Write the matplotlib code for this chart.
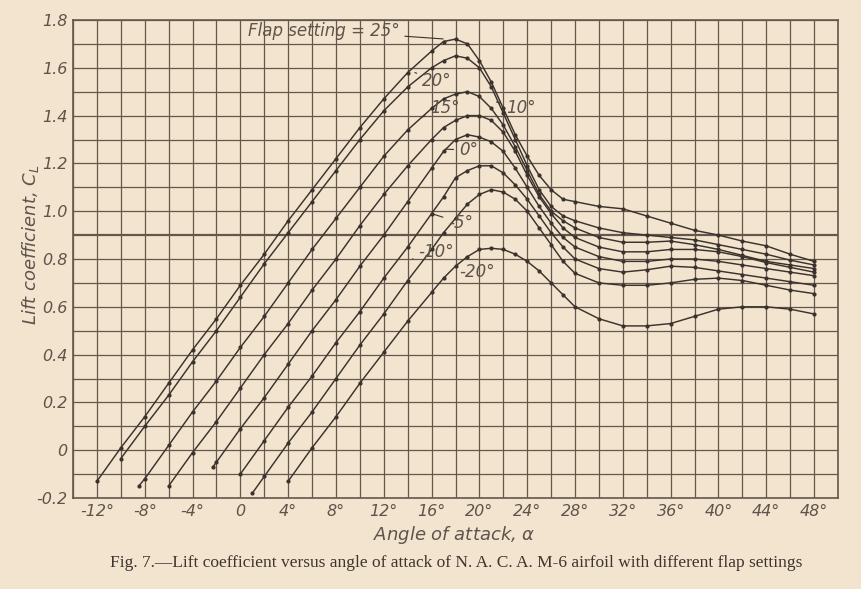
import matplotlib
matplotlib.use("Agg")
import matplotlib.pyplot as plt

# angle of attack (deg) and lift coefficient for each flap setting
a_p25 = [-12, -10, -8, -6, -4, -2, 0, 2, 4, 6, 8, 10, 12, 14, 16, 17, 18, 19, 20, 21, 22, 23, 24, 25, 26, 27,
         28, 30, 32, 34, 36, 38, 40, 42, 44, 46, 48]
cl_p25 = [-0.13, 0.01, 0.14, 0.28, 0.42, 0.55, 0.69, 0.82, 0.96, 1.09, 1.22, 1.35, 1.47, 1.58, 1.67, 1.71, 1.72,
          1.70, 1.63, 1.54, 1.43, 1.32, 1.23, 1.15, 1.09, 1.05, 1.04, 1.02, 1.01, 0.98, 0.95, 0.92, 0.90, 0.875,
          0.855, 0.82, 0.79]

a_p20 = [-10, -8, -6, -4, -2, 0, 2, 4, 6, 8, 10, 12, 14, 16, 17, 18, 19, 20, 21, 22, 23, 24, 25, 26, 27,
         28, 30, 32, 34, 36, 38, 40, 42, 44, 46, 48]
cl_p20 = [-0.035, 0.10, 0.23, 0.37, 0.50, 0.64, 0.78, 0.91, 1.04, 1.17, 1.30, 1.42, 1.52, 1.60, 1.63, 1.65,
          1.64, 1.60, 1.52, 1.41, 1.30, 1.19, 1.09, 1.02, 0.98, 0.96, 0.93, 0.91, 0.90, 0.89, 0.88, 0.86, 0.84,
          0.82, 0.795, 0.775]

a_p15 = [-8.5, -8, -6, -4, -2, 0, 2, 4, 6, 8, 10, 12, 14, 16, 17, 18, 19, 20, 21, 22, 23, 24, 25, 26, 27,
         28, 30, 32, 34, 36, 38, 40, 42, 44, 46, 48]
cl_p15 = [-0.15, -0.12, 0.02, 0.16, 0.29, 0.43, 0.56, 0.70, 0.84, 0.97, 1.10, 1.23, 1.34, 1.43, 1.47, 1.49,
          1.50, 1.48, 1.43, 1.36, 1.27, 1.17, 1.07, 1.00, 0.96, 0.93, 0.89, 0.87, 0.87, 0.875, 0.86, 0.84, 0.815,
          0.79, 0.775, 0.76]

a_p10 = [-6, -4, -2, 0, 2, 4, 6, 8, 10, 12, 14, 16, 17, 18, 19, 20, 21, 22, 23, 24, 25, 26, 27,
         28, 30, 32, 34, 36, 38, 40, 42, 44, 46, 48]
cl_p10 = [-0.15, -0.01, 0.12, 0.26, 0.40, 0.53, 0.67, 0.80, 0.94, 1.07, 1.19, 1.30, 1.35, 1.38, 1.40, 1.40,
          1.38, 1.33, 1.25, 1.15, 1.06, 0.99, 0.93, 0.89, 0.85, 0.83, 0.83, 0.84, 0.84, 0.83, 0.81, 0.785,
          0.765, 0.745]

a_0 = [-2.3, -2, 0, 2, 4, 6, 8, 10, 12, 14, 16, 17, 18, 19, 20, 21, 22, 23, 24, 25, 26, 27,
       28, 30, 32, 34, 36, 38, 40, 42, 44, 46, 48]
cl_0 = [-0.07, -0.05, 0.09, 0.22, 0.36, 0.50, 0.63, 0.77, 0.90, 1.04, 1.18, 1.25, 1.30, 1.32, 1.31, 1.29,
        1.25, 1.18, 1.10, 1.02, 0.95, 0.89, 0.85, 0.81, 0.79, 0.79, 0.80, 0.80, 0.79, 0.775, 0.76, 0.745, 0.73]

a_m5 = [0, 2, 4, 6, 8, 10, 12, 14, 16, 17, 18, 19, 20, 21, 22, 23, 24, 25, 26, 27,
        28, 30, 32, 34, 36, 38, 40, 42, 44, 46, 48]
cl_m5 = [-0.10, 0.04, 0.18, 0.31, 0.45, 0.58, 0.72, 0.85, 0.99, 1.06, 1.14, 1.17, 1.19, 1.19, 1.16, 1.11,
         1.05, 0.98, 0.91, 0.85, 0.80, 0.76, 0.745, 0.755, 0.77, 0.765, 0.75, 0.735, 0.72, 0.705, 0.69]

a_m10 = [1, 2, 4, 6, 8, 10, 12, 14, 16, 17, 18, 19, 20, 21, 22, 23, 24, 25, 26, 27,
         28, 30, 32, 34, 36, 38, 40, 42, 44, 46, 48]
cl_m10 = [-0.18, -0.11, 0.03, 0.16, 0.30, 0.44, 0.57, 0.71, 0.84, 0.91, 0.97, 1.03, 1.07, 1.09, 1.08, 1.05,
          1.00, 0.93, 0.86, 0.79, 0.74, 0.70, 0.69, 0.69, 0.70, 0.715, 0.72, 0.71, 0.69, 0.67, 0.655]

a_m20 = [4, 6, 8, 10, 12, 14, 16, 17, 18, 19, 20, 21, 22, 23, 24, 25, 26, 27,
         28, 30, 32, 34, 36, 38, 40, 42, 44, 46, 48]
cl_m20 = [-0.13, 0.01, 0.14, 0.28, 0.41, 0.54, 0.66, 0.72, 0.77, 0.81, 0.84, 0.845, 0.84, 0.82, 0.79, 0.75,
          0.70, 0.65, 0.60, 0.55, 0.52, 0.52, 0.53, 0.56, 0.59, 0.60, 0.60, 0.59, 0.57]

x_ticks = [-12, -8, -4, 0, 4, 8, 12, 16, 20, 24, 28, 32, 36, 40, 44, 48]
x_labels = ["-12°", "-8°", "-4°", "0", "4°", "8°", "12°", "16°", "20°", "24°", "28°", "32°", "36°", "40°",
            "44°", "48°"]
y_ticks = [-0.2, 0, 0.2, 0.4, 0.6, 0.8, 1.0, 1.2, 1.4, 1.6, 1.8]
y_labels = ["-0.2", "0", "0.2", "0.4", "0.6", "0.8", "1.0", "1.2", "1.4", "1.6", "1.8"]

paper = "#f3e4cf"
ink = "#3a322c"
grid_c = "#65574c"
txt = "#5e544c"

fig = plt.figure(figsize=(8.61, 5.89), dpi=100, facecolor=paper)
ax = fig.add_axes([73 / 861, 1 - 498 / 589, (838 - 73) / 861, (498 - 20) / 589])
ax.set_facecolor(paper)
ax.set_xlim(-14, 50)
ax.set_ylim(-0.2, 1.8)

# graph paper grid
for gx in range(-14, 51, 2):
    ax.axvline(gx, color=grid_c, lw=0.9, zorder=1)
for i in range(-2, 19):
    ax.axhline(i / 10, color=grid_c, lw=1.6 if i == 9 else 0.9, zorder=1)

for s in ax.spines.values():
    s.set_color(grid_c)
    s.set_linewidth(1.2)

curves = [(a_p25, cl_p25), (a_p20, cl_p20), (a_p15, cl_p15), (a_p10, cl_p10),
          (a_0, cl_0), (a_m5, cl_m5), (a_m10, cl_m10), (a_m20, cl_m20)]
for a, cl in curves:
    ax.plot(a, cl, color=ink, lw=1.05, zorder=3)
    ax.plot(a, cl, ls="none", marker="o", ms=2.0, color=ink, zorder=4)

ax.set_xticks(x_ticks)
ax.set_xticklabels(x_labels)
ax.set_yticks(y_ticks)
ax.set_yticklabels(y_labels)
ax.tick_params(length=0, pad=4, labelsize=11.5, labelcolor=txt)
for lab in ax.get_xticklabels() + ax.get_yticklabels():
    lab.set_fontstyle("italic")

# curve labels
lab_kw = dict(fontsize=12, style="italic", color=txt, zorder=5)
arr = dict(arrowstyle="-", color=ink, lw=0.8)
ax.annotate("Flap setting = 25°", xy=(17.2, 1.72), xytext=(0.6, 1.735), arrowprops=arr, **lab_kw)
ax.annotate("20°", xy=(14.6, 1.58), xytext=(15.2, 1.525), arrowprops=arr, **lab_kw)
ax.annotate("15°", xy=(15.0, 1.39), xytext=(15.9, 1.41), arrowprops=arr, **lab_kw)
ax.annotate("10°", xy=(21.2, 1.46), xytext=(22.2, 1.41), arrowprops=arr, **lab_kw)
ax.annotate("0°", xy=(16.9, 1.26), xytext=(18.3, 1.235), arrowprops=arr, **lab_kw)
ax.annotate("-5°", xy=(16.0, 0.99), xytext=(17.4, 0.93), arrowprops=arr, **lab_kw)
ax.annotate("-10°", xy=(14.4, 0.80), xytext=(14.9, 0.81), arrowprops=arr, **lab_kw)
ax.annotate("-20°", xy=(18.3, 0.78), xytext=(18.3, 0.725), **lab_kw)

fig.text(0.036, 0.585, r"Lift coefficient, $C_L$", rotation=90, ha="center", va="center",
         fontsize=13, style="italic", color=txt)
fig.text(0.528, 0.092, r"Angle of attack, $\alpha$", ha="center", va="center",
         fontsize=13, style="italic", color=txt)
fig.text(0.53, 0.044,
         "Fig. 7.—Lift coefficient versus angle of attack of N. A. C. A. M-6 airfoil with different flap settings",
         ha="center", va="center", fontsize=12.5, family="Liberation Serif", color="#3e342e")

fig.savefig("out.png", dpi=100, facecolor=paper)
